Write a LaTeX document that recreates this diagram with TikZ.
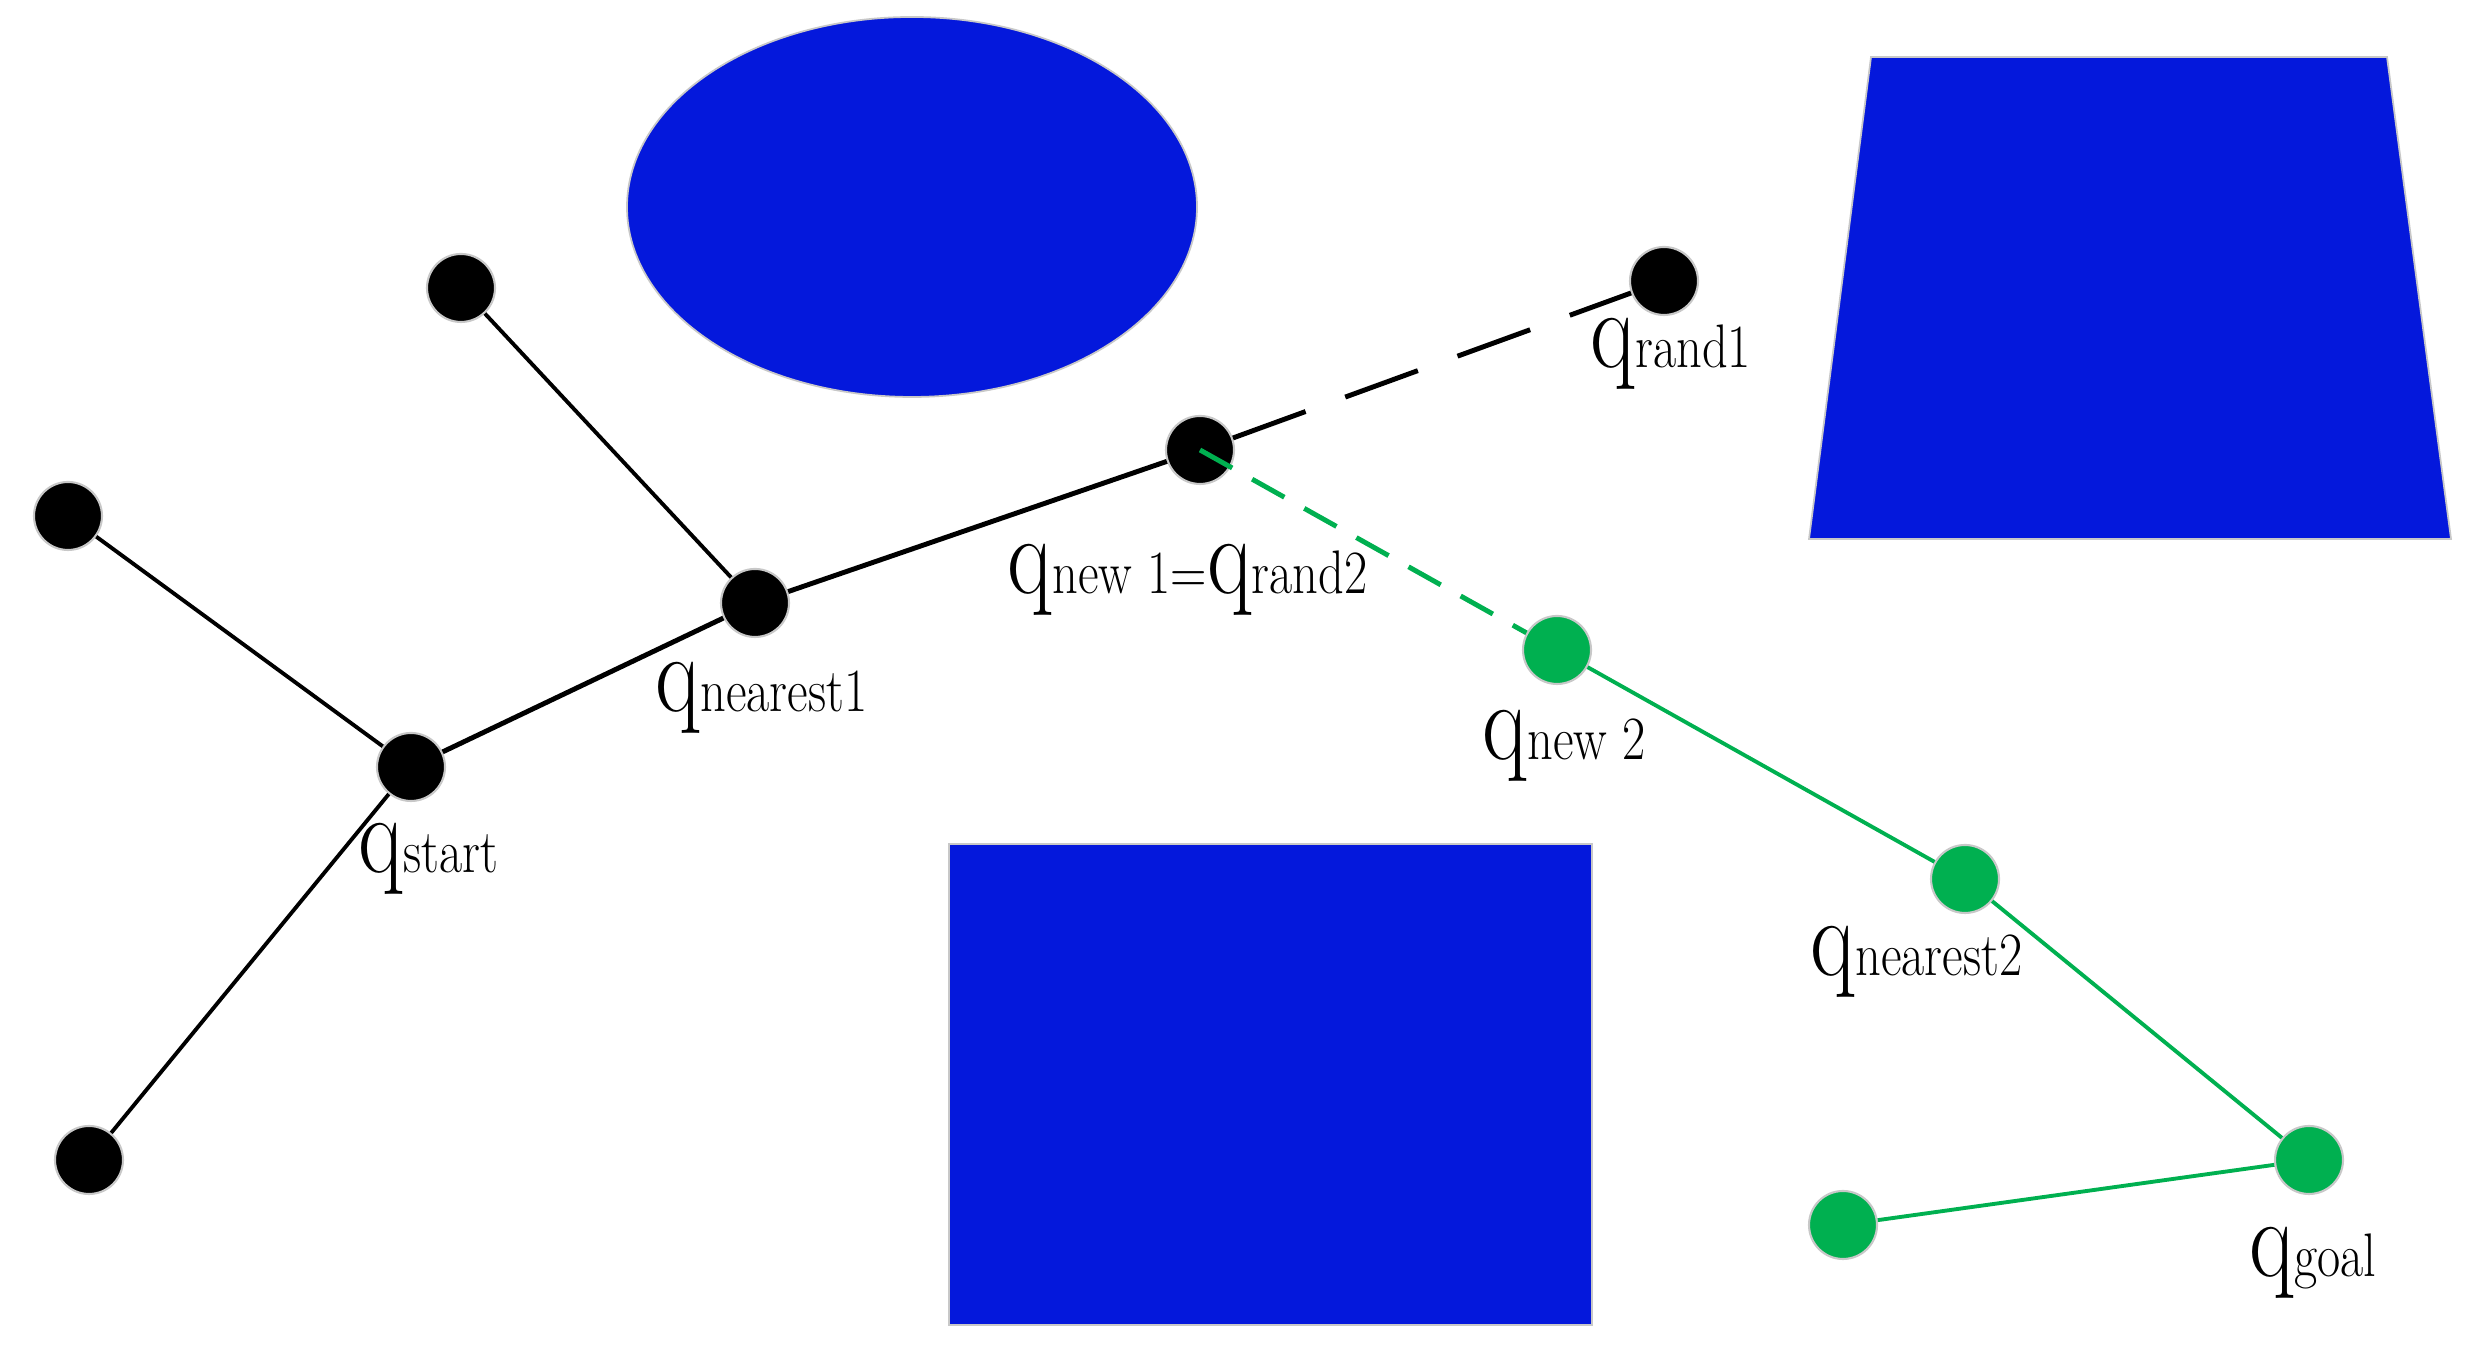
\documentclass[tikz,border=0pt]{standalone}
\usepackage{graphicx}
\definecolor{obst}{RGB}{4,24,220}
\definecolor{tree}{RGB}{0,176,80}
\definecolor{rim}{RGB}{200,200,200}
\newcommand{\qq}{{\fontsize{32}{32}\selectfont q}}
\newcommand{\qsub}[1]{{\fontsize{17.5}{18}\selectfont #1}}
\newcommand{\qlab}[1]{\scalebox{0.82}[1]{\qq\qsub{#1}}}
\tikzset{
    vtx/.style={circle,fill=black,draw=rim,line width=0.6pt,minimum size=0.68cm,inner sep=0pt},
    gvtx/.style={vtx,fill=tree},
    lab/.style={anchor=base west,inner sep=0pt},
    obstacle/.style={fill=obst,draw=rim,line width=0.5pt},
    branch/.style={line width=1.1pt},
    trunk/.style={line width=1.4pt},
    probe/.style={line width=1.4pt,dash pattern=on 22pt off 12pt},
    gprobe/.style={tree,line width=1.4pt,dash pattern=on 10.5pt off 6.5pt},
    gbranch/.style={tree,line width=1.1pt}
}
\begin{document}
\begin{tikzpicture}
                \useasboundingbox (0,0) rectangle (24.71,13.52);
                \draw[obstacle] (9.12,11.45) ellipse (2.85 and 1.90);
                \draw[obstacle] (18.71,12.95) -- (23.87,12.95) -- (24.51,8.13) -- (18.09,8.13) -- cycle;
                \draw[obstacle] (9.49,0.27) rectangle (15.92,5.08);
                \node[vtx] (leafa) at (4.61,10.64) {};
                \node[vtx] (leafb) at (0.68,8.36) {};
                \node[vtx] (leafc) at (0.89,1.92) {};
                \node[vtx] (start) at (4.11,5.85) {};
                \node[vtx] (near1) at (7.55,7.49) {};
                \node[vtx] (new1) at (12.00,9.02) {};
                \node[vtx] (rand1) at (16.64,10.71) {};
                \node[gvtx] (new2) at (15.57,7.02) {};
                \node[gvtx] (near2) at (19.65,4.73) {};
                \node[gvtx] (goal) at (23.09,1.92) {};
                \node[gvtx] (leafd) at (18.43,1.27) {};
                \draw[branch] (leafa) -- (near1);
                \draw[branch] (leafb) -- (start);
                \draw[branch] (leafc) -- (start);
                \draw[trunk] (start) -- (near1);
                \draw[trunk] (near1) -- (new1);
                \draw[probe] (new1) -- (rand1);
                \draw[gprobe] (new1.center) -- (new2);
                \draw[gbranch] (new2) -- (near2);
                \draw[gbranch] (near2) -- (goal);
                \draw[gbranch] (goal) -- (leafd);
                \node[lab] (lstart) at (3.58,4.79) {\qlab{start}};
                \node[lab] (lnear1) at (6.55,6.40) {\qlab{nearest1}};
                \node[lab] (lnew1) at (10.07,7.58) {\scalebox{0.82}[1]{\qq\qsub{new 1=}\qq\qsub{rand2}}};
                \node[lab] (lrand1) at (15.90,9.84) {\qlab{rand1}};
                \node[lab] (lnew2) at (14.82,5.92) {\qlab{new 2}};
                \node[lab] (lnear2) at (18.10,3.76) {\qlab{nearest2}};
                \node[lab] (lgoal) at (22.49,0.75) {\qlab{goal}};
\end{tikzpicture}
\end{document}
